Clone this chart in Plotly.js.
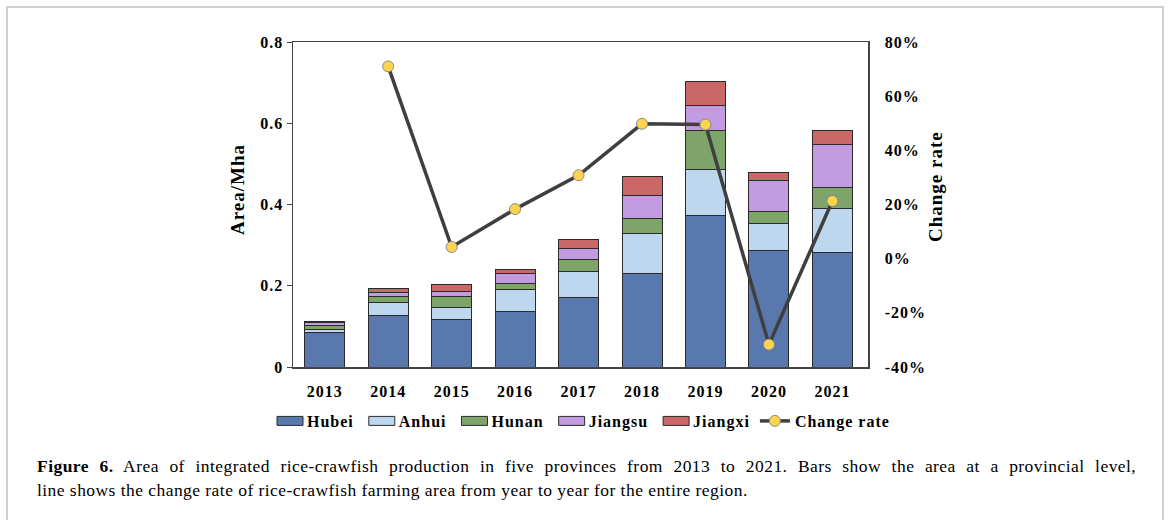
<!DOCTYPE html>
<html>
<head>
<meta charset="utf-8">
<script src="https://cdn.plot.ly/plotly-3.0.1.min.js"></script>
<style>
html,body{margin:0;padding:0;background:#fff;}
#chart{width:1168px;height:520px;}
svg text{letter-spacing:1px;}
#chart g.annotation[data-index="2"] text,
#chart g.annotation[data-index="3"] text{letter-spacing:0.45px;}
#chart g.annotation[data-index="2"] text{word-spacing:5.7px;}
</style>
</head>
<body>
<div id="chart"></div>
<script>
const years = ['2013','2014','2015','2016','2017','2018','2019','2020','2021'];
const hubei   = [0.086,0.127,0.117,0.137,0.170,0.230,0.374,0.286,0.281];
const anhui   = [0.007,0.033,0.029,0.053,0.065,0.099,0.113,0.068,0.109];
const hunan   = [0.010,0.013,0.028,0.016,0.030,0.036,0.094,0.028,0.051];
const jiangsu = [0.007,0.011,0.012,0.024,0.026,0.057,0.063,0.076,0.107];
const jiangxi = [0.003,0.009,0.016,0.011,0.023,0.048,0.058,0.020,0.034];
const changeYears = ['2014','2015','2016','2017','2018','2019','2020','2021'];
const changeRate = [0.710,0.043,0.183,0.308,0.498,0.495,-0.317,0.213];
const leftTicks = [0,0.2,0.4,0.6,0.8];
const leftTickText = ['0','0.2','0.4','0.6','0.8'];
const rightTicks = [-0.4,-0.2,0,0.2,0.4,0.6,0.8];
const rightTickText = ['-40%','-20%','0%','20%','40%','60%','80%'];

const serif = 'Liberation Serif, Times New Roman, serif';
const outline = {color:'#2b2b2b', width:1};
function barTrace(name, vals, color){
  return {type:'bar', name:name, x:years, y:vals,
    marker:{color:color, line:outline}, hoverinfo:'skip'};
}
const traces = [
  barTrace('Hubei', hubei, '#5878AE'),
  barTrace('Anhui', anhui, '#BDD7EE'),
  barTrace('Hunan', hunan, '#7FA46A'),
  barTrace('Jiangsu', jiangsu, '#C29BE0'),
  barTrace('Jiangxi', jiangxi, '#CA6868'),
  {type:'scatter', mode:'lines+markers', name:'Change rate', x:changeYears, y:changeRate,
   yaxis:'y2', line:{color:'#3f3f3f', width:3.5},
   marker:{color:'#FDD44E', size:11, line:{color:'#8a8a8a', width:1}}, hoverinfo:'skip'}
];

const L=293, R=868, T=42, B=367;
const W=R-L, H=B-T;
function px(x){return (x-L)/W;}
function py(y){return (B-y)/H;}
const tickFont = {family:serif, size:16, color:'#000', weight:'bold'};
const titleFont = {family:serif, size:19, color:'#000', weight:'bold'};
const capFont = {family:serif, size:17.5, color:'#000'};

const layout = {
  width:1168, height:520,
  margin:{l:L, r:1168-R, t:T, b:520-B, pad:0, autoexpand:false},
  paper_bgcolor:'#ffffff', plot_bgcolor:'#ffffff',
  barmode:'stack', bargap:0.37,
  showlegend:true,
  font:{family:serif, color:'#000'},
  xaxis:{type:'category', showline:true, linecolor:'#444', linewidth:1.5, mirror:true,
    ticks:'', showgrid:false, zeroline:false, tickfont:tickFont, ticklabelstandoff:9,
    tickangle:0, automargin:false},
  yaxis:{range:[0,0.8], tickvals:leftTicks, ticktext:leftTickText, showline:true,
    linecolor:'#444', linewidth:1.5, mirror:true, ticks:'outside', ticklen:5, tickcolor:'#444',
    showgrid:false, zeroline:false, tickfont:tickFont, automargin:false},
  yaxis2:{range:[-0.4,0.8], overlaying:'y', side:'right', tickvals:rightTicks, ticktext:rightTickText,
    showline:true, linecolor:'#444', linewidth:1.5, ticks:'', showgrid:false, zeroline:false,
    ticklabelstandoff:12, tickfont:tickFont, automargin:false},
  legend:{orientation:'h', x:px(267), xanchor:'left', y:py(421), yanchor:'middle',
    traceorder:'normal', font:{family:serif, size:16, color:'#000', weight:'bold'},
    itemwidth:30, tracegroupgap:0, bgcolor:'rgba(0,0,0,0)'},
  shapes:[
    {type:'rect', xref:'paper', yref:'paper', x0:px(7), x1:px(1163), y0:py(530), y1:py(7),
     line:{color:'#cfcfcf', width:2}, fillcolor:'rgba(0,0,0,0)', layer:'below'}
  ],
  annotations:[
    {xref:'paper', yref:'paper', x:px(237), y:py(190), xanchor:'center', yanchor:'middle',
     showarrow:false, textangle:-90, font:titleFont, text:'Area/Mha'},
    {xref:'paper', yref:'paper', x:px(935), y:py(187), xanchor:'center', yanchor:'middle',
     showarrow:false, textangle:-90, font:titleFont, text:'Change rate'},
    {xref:'paper', yref:'paper', x:px(35), y:py(466), xanchor:'left', yanchor:'middle', showarrow:false,
     align:'left', font:capFont,
     text:'<b>Figure 6.</b> Area of integrated rice-crawfish production in five provinces from 2013 to 2021. Bars show the area at a provincial level,'},
    {xref:'paper', yref:'paper', x:px(35), y:py(490), xanchor:'left', yanchor:'middle', showarrow:false,
     align:'left', font:capFont,
     text:'line shows the change rate of rice-crawfish farming area from year to year for the entire region.'}
  ]
};
Plotly.newPlot('chart', traces, layout, {displayModeBar:false, staticPlot:true}).then(function(gd){
  const items = gd.querySelectorAll('.legend .traces');
  items.forEach(function(tr, i){
    if (i < 5) {
      const p = tr.querySelector('.legendpoints path');
      if (p) p.setAttribute('d', 'M16,4.5H-10V-4.5H16Z');
    }
  });
});
</script>
</body>
</html>
